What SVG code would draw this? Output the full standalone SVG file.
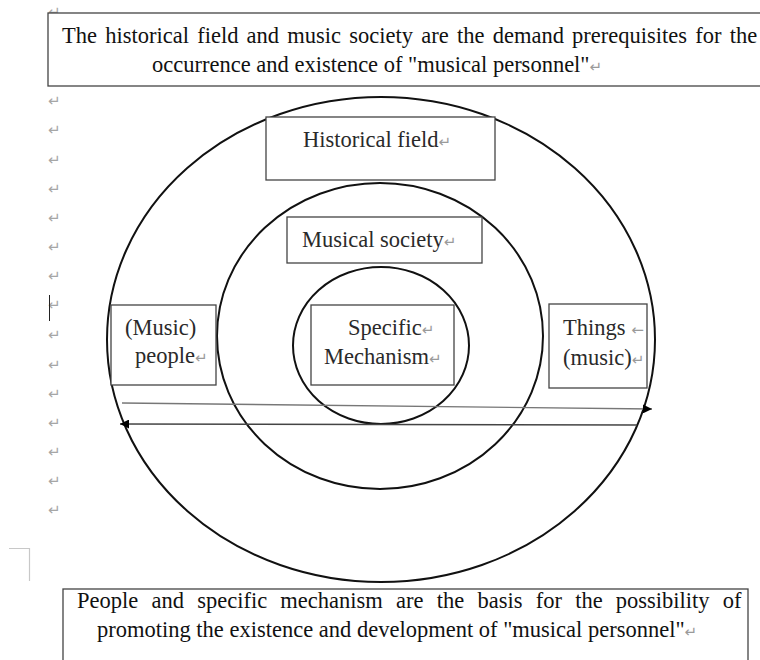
<svg xmlns="http://www.w3.org/2000/svg" width="760" height="660" viewBox="0 0 760 660">
  <style>
    .t { font-family: "Liberation Serif", "Times New Roman", serif; font-size: 22.5px; fill: #111111; }
    .lbl { font-family: "Liberation Serif", "Times New Roman", serif; font-size: 22.5px; fill: #2a2a2a; }
    .pm { font-family: "DejaVu Sans", sans-serif; font-size: 15px; fill: #a6a6a6; }
    .pi { font-family: "DejaVu Sans", sans-serif; font-size: 15px; fill: #9a9a9a; }
    .box { fill: #ffffff; stroke: #444444; stroke-width: 1.3; }
    .ring { fill: none; stroke: #111111; stroke-width: 2; }
    .conn { fill: none; stroke-width: 1.3; }
  </style>
  <defs>
    <marker id="arr" viewBox="0 0 10 10" refX="10" refY="5" markerWidth="11" markerHeight="9" markerUnits="userSpaceOnUse" orient="auto">
      <path d="M0,0 L10,5 L0,10 z" fill="#000000"/>
    </marker>
  </defs>
  <rect width="760" height="660" fill="#ffffff"/>

  <g id="margin-marks">
    <text class="pm" x="48" y="17">↵</text>
    <text class="pm" x="48" y="106">↵</text>
    <text class="pm" x="48" y="135">↵</text>
    <text class="pm" x="48" y="165">↵</text>
    <text class="pm" x="48" y="194">↵</text>
    <text class="pm" x="48" y="223">↵</text>
    <text class="pm" x="48" y="252">↵</text>
    <text class="pm" x="48" y="281">↵</text>
    <text class="pm" x="48" y="310">↵</text>
    <text class="pm" x="48" y="340">↵</text>
    <text class="pm" x="48" y="370">↵</text>
    <text class="pm" x="48" y="399">↵</text>
    <text class="pm" x="48" y="428">↵</text>
    <text class="pm" x="48" y="457">↵</text>
    <text class="pm" x="48" y="486">↵</text>
    <text class="pm" x="48" y="515">↵</text>
    <line x1="49.5" y1="295" x2="49.5" y2="321" stroke="#222222" stroke-width="1"/>
    <path d="M9,548.5 H29.5 V581" fill="none" stroke="#c8c8c8" stroke-width="1.2"/>
  </g>

  <g id="rings">
    <ellipse id="outer-ring" class="ring" cx="381" cy="339.5" rx="274" ry="242.5"/>
    <ellipse id="middle-ring" class="ring" cx="380" cy="336" rx="163" ry="153"/>
    <ellipse id="inner-ring" class="ring" cx="381" cy="345.5" rx="88" ry="78.5"/>
  </g>

  <g id="top-note">
    <rect class="box" x="48" y="13" width="720" height="73"/>
    <text class="t" x="62" y="43" word-spacing="2.6">The historical field and music society are the demand prerequisites for the</text>
    <text class="t" x="152" y="72">occurrence and existence of "musical personnel"<tspan class="pi">↵</tspan></text>
  </g>

  <g id="historical-field">
    <rect class="box" x="266" y="117" width="229" height="63"/>
    <text class="lbl" x="303" y="147">Historical field<tspan class="pi">↵</tspan></text>
  </g>

  <g id="musical-society">
    <rect class="box" x="287" y="217" width="195" height="46"/>
    <text class="lbl" x="302" y="247">Musical society<tspan class="pi">↵</tspan></text>
  </g>

  <g id="specific-mechanism">
    <rect class="box" x="311" y="305" width="143" height="80"/>
    <text class="lbl" x="348" y="335">Specific<tspan class="pi">↵</tspan></text>
    <text class="lbl" x="324" y="364">Mechanism<tspan class="pi">↵</tspan></text>
  </g>

  <g id="music-people">
    <rect class="box" x="111" y="305" width="105" height="80"/>
    <text class="lbl" x="125" y="335">(Music)</text>
    <text class="lbl" x="135" y="363">people<tspan class="pi">↵</tspan></text>
  </g>

  <g id="things-music">
    <rect class="box" x="549" y="304" width="98" height="84"/>
    <text class="lbl" x="563" y="335">Things <tspan class="pi">←</tspan></text>
    <text class="lbl" x="563" y="365">(music)<tspan class="pi">↵</tspan></text>
  </g>

  <g id="connectors">
    <line class="conn" x1="122" y1="403" x2="652" y2="409" stroke="#777777" marker-end="url(#arr)"/>
    <line class="conn" x1="637" y1="425" x2="120" y2="424" stroke="#444444" marker-end="url(#arr)"/>
  </g>

  <g id="bottom-note">
    <rect class="box" x="63" y="589" width="685" height="80"/>
    <text class="t" x="77" y="608" word-spacing="7.6">People and specific mechanism are the basis for the possibility of</text>
    <text class="t" x="97" y="637">promoting the existence and development of "musical personnel"<tspan class="pi">↵</tspan></text>
  </g>
</svg>
